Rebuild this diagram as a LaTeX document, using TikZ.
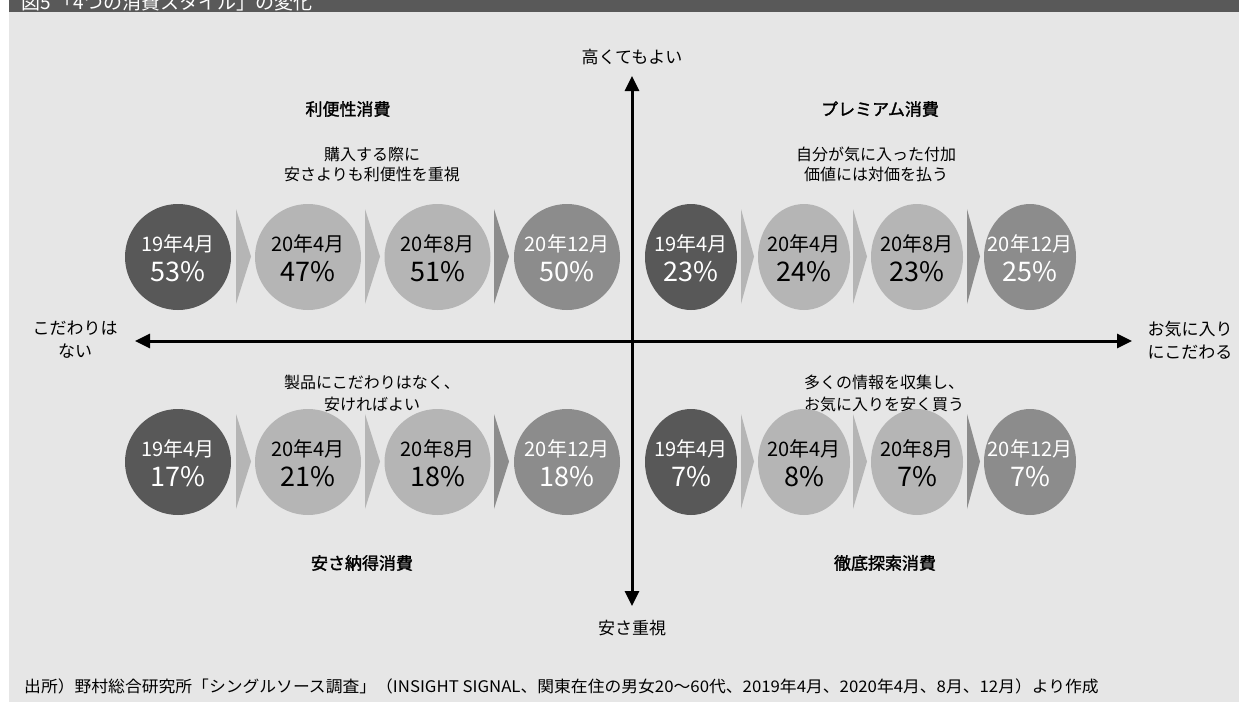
\documentclass[tikz,border=0pt]{standalone}
\usepackage{fontspec}
\setmainfont{Noto Sans CJK JP}
\newfontfamily\boldjp[FakeBold=1.6]{Noto Sans CJK JP}
\usetikzlibrary{arrows.meta,shapes.geometric}
\definecolor{bg}{HTML}{E6E6E6}
\definecolor{bar}{HTML}{595959}
\definecolor{cdark}{HTML}{585858}
\definecolor{clight}{HTML}{B5B5B5}
\definecolor{cmid}{HTML}{8C8C8C}
\tikzset{
  lbl/.style={font=\fontsize{17}{23}\selectfont, align=center, inner sep=0pt},
  qtitle/.style={font=\boldjp\fontsize{17}{20}\selectfont, inner sep=0pt},
  sub/.style={font=\fontsize{16}{20}\selectfont, align=center, inner sep=0pt},
  roundbub/.style={circle, minimum size=106pt, inner sep=0pt, draw=none},
  ovalbub/.style={ellipse, minimum width=92pt, minimum height=106pt, inner sep=0pt, draw=none},
  datetxt/.style={font=\fontsize{20}{21}\selectfont, inner sep=0pt},
  pcttxt/.style={font=\fontsize{27}{28}\selectfont, inner sep=0pt},
  axis/.style={line width=3pt, {Triangle[length=15pt,width=14pt]}-{Triangle[length=15pt,width=14pt]}},
}
\newcommand{\bubble}[7]{%
  \node[#4, fill=#5] (#1) at #2 {};
  \node[datetxt, text=#6] (#1d) at ([yshift=13pt]#1.center) {#3};
  \node[pcttxt, text=#6] (#1p) at ([yshift=-15pt]#1.center) {#7};
}
\newcommand{\chev}[4]{% x-left, x-tip, y-center, color
  \fill[#4] (#1,#3-47.5) -- (#2,#3) -- (#1,#3+47.5) -- cycle;
}
\begin{document}
\begin{tikzpicture}[x=1pt,y=-1pt]
\useasboundingbox (0,0) rectangle (1239,702);
\fill[white] (0,0) rectangle (1239,702);
\fill[bg] (9,12) rectangle (1239,702);
\fill[bar] (9,0) rectangle (1239,12);
\node[anchor=base west, text=white, inner sep=0pt, font=\fontsize{19}{20}\selectfont] (title) at (21,9) {図5\ 「4つの消費スタイル」の変化};

% axes
\coordinate (vt) at (632,76);
\coordinate (vb) at (632,606);
\coordinate (hl) at (135,341);
\coordinate (hr) at (1132,341);
\draw[axis] (vb) -- (vt);
\draw[axis] (hl) -- (hr);

\node[lbl] (top) at (632,57) {高くてもよい};
\node[lbl] (bottom) at (632,628) {安さ重視};
\node[lbl] (left) at (75,340) {こだわりは\\ない};
\node[lbl] (right) at (1190,340) {お気に入り\\にこだわる};

% quadrant titles
\node[qtitle] (q1) at (348,109) {利便性消費};
\node[qtitle] (q2) at (880,109) {プレミアム消費};
\node[qtitle] (q3) at (362,563) {安さ納得消費};
\node[qtitle] (q4) at (885,563) {徹底探索消費};

\node[sub] (s1) at (372,164) {購入する際に\\安さよりも利便性を重視};
\node[sub] (s2) at (876,164) {自分が気に入った付加\\価値には対価を払う};
\node[sub, font=\fontsize{16}{22}\selectfont] (s3) at (372,393) {製品にこだわりはなく、\\安ければよい};
\node[sub, font=\fontsize{16}{22}\selectfont] (s4) at (884,393) {多くの情報を収集し、\\お気に入りを安く買う};

% chevrons
\chev{236}{251}{256.5}{clight}
\chev{365}{380}{256.5}{clight}
\chev{494}{509}{256.5}{cmid}
\chev{741}{754}{256.5}{clight}
\chev{853}{867}{256.5}{clight}
\chev{967}{980}{256.5}{cmid}
\chev{236}{251}{461.5}{clight}
\chev{365}{380}{461.5}{clight}
\chev{494}{509}{461.5}{cmid}
\chev{741}{754}{461.5}{clight}
\chev{853}{867}{461.5}{clight}
\chev{967}{980}{461.5}{cmid}

% upper left
\bubble{a1}{(178,257)}{19年4月}{roundbub}{cdark}{white}{53\%}
\bubble{a2}{(308,257)}{20年4月}{roundbub}{clight}{black}{47\%}
\bubble{a3}{(437.5,257)}{20年8月}{roundbub}{clight}{black}{51\%}
\bubble{a4}{(567,257)}{20年12月}{roundbub}{cmid}{white}{50\%}
% upper right
\bubble{b1}{(691,257)}{19年4月}{ovalbub}{cdark}{white}{23\%}
\bubble{b2}{(804,257)}{20年4月}{ovalbub}{clight}{black}{24\%}
\bubble{b3}{(917,257)}{20年8月}{ovalbub}{clight}{black}{23\%}
\bubble{b4}{(1030,257)}{20年12月}{ovalbub}{cmid}{white}{25\%}
% lower left
\bubble{c1}{(178,462)}{19年4月}{roundbub}{cdark}{white}{17\%}
\bubble{c2}{(308,462)}{20年4月}{roundbub}{clight}{black}{21\%}
\bubble{c3}{(437.5,462)}{20年8月}{roundbub}{clight}{black}{18\%}
\bubble{c4}{(567,462)}{20年12月}{roundbub}{cmid}{white}{18\%}
% lower right
\bubble{d1}{(691,462)}{19年4月}{ovalbub}{cdark}{white}{7\%}
\bubble{d2}{(804,462)}{20年4月}{ovalbub}{clight}{black}{8\%}
\bubble{d3}{(917,462)}{20年8月}{ovalbub}{clight}{black}{7\%}
\bubble{d4}{(1030,462)}{20年12月}{ovalbub}{cmid}{white}{7\%}

\node[anchor=west, inner sep=0pt, xscale=1.05, font=\fontsize{16}{17}\selectfont] (src) at (24,686) {出所）野村総合研究所「シングルソース調査」（INSIGHT SIGNAL、関東在住の男女20〜60代、2019年4月、2020年4月、8月、12月）より作成};
\end{tikzpicture}
\end{document}
